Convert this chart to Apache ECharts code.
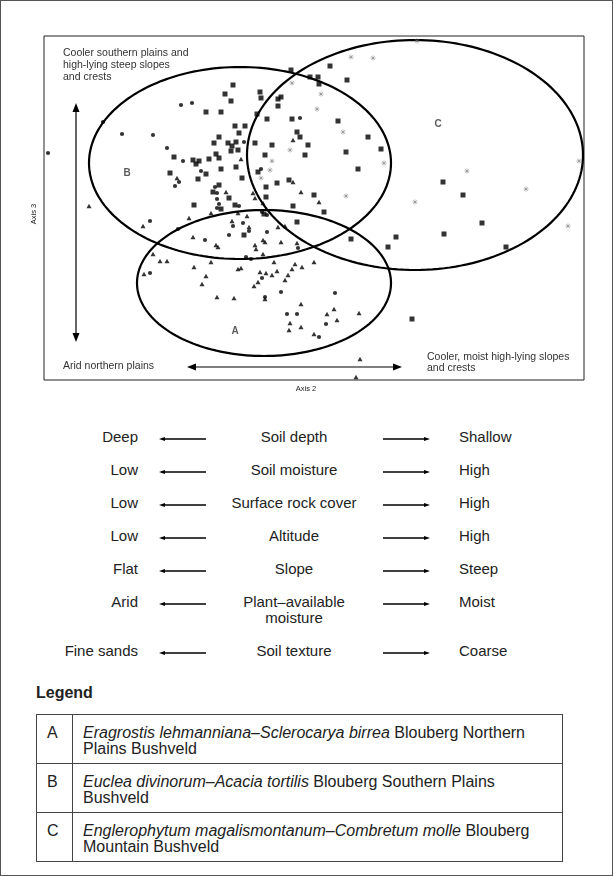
<!DOCTYPE html>
<html>
<head>
<meta charset="utf-8">
<script src="https://cdn.jsdelivr.net/npm/echarts@6/dist/echarts.min.js"></script>
<style>
html,body{margin:0;padding:0;background:#fff;}
body{width:613px;height:876px;position:relative;overflow:hidden;font-family:"Liberation Sans",Arial,sans-serif;color:#222;}
#frame{position:absolute;left:0;top:0;width:611px;height:874px;border:1px solid #555;}
#chart{position:absolute;left:0;top:0;width:613px;height:400px;}
.t{position:absolute;font-size:15px;line-height:16px;white-space:nowrap;}
.arr{position:absolute;}
#legTitle{position:absolute;left:36px;top:684px;font-weight:bold;font-size:16px;}
table{position:absolute;left:36px;top:714px;width:527px;border-collapse:collapse;font-size:16px;line-height:15.5px;}
td{border:1.5px solid #444;vertical-align:top;padding:10px 0 0 10px;height:38px;}
td.k{width:25px;}
</style>
</head>
<body>
<div id="frame"></div>
<div id="chart"></div>
<div id="rows"></div>
<div id="legTitle">Legend</div>
<table id="leg"></table>
<script>
// ---- scatter data (x = Axis 2 units, y = Axis 3 units) ----
const squares = [
[189,295],[181,286],[187,279],[216,288],[217,282],[234,281],[237,283],[234,274],[162,268],[177,268],
[213,266],[223,261],[248,261],[191,254],[201,254],[195,247],[175,243],[170,237],[184,237],[188,234],
[192,238],[187,229],[194,230],[211,237],[228,235],[253,248],[256,243],[130,223],[172,226],[175,222],
[165,221],[149,220],[155,219],[152,216],[221,225],[192,213],[177,211],[162,206],[214,208],[126,207],
[154,201],[198,202],[233,197],[245,200],[175,195],[222,193],[169,188],[185,182],[222,183],[150,175],
[191,175],[249,174],[177,171],[220,166],[253,158],[200,145],[247,310],[266,303],[274,303],[275,296],
[286,314],[303,300],[294,259],[324,243],[264,235],[337,231],[302,228],[261,225],[314,211],[270,185],
[280,168],[307,141],[352,143],[344,133],[399,198],[419,185],[438,157],[400,146],[462,133],[368,61]
];
const dots = [
[4,227],[59,258],[78,246],[109,245],[123,232],[137,275],[148,277],[139,219],[200,238],[256,262],
[157,209],[217,211],[135,198],[131,194],[171,193],[173,187],[173,181],[175,176],[195,174],[173,172],
[218,168],[223,165],[106,159],[189,154],[199,157],[205,149],[185,145],[223,148],[161,140],[254,132],
[134,151],[202,123],[207,121],[106,107],[218,102],[221,83],[237,88],[291,87],[243,66],[253,66],
[282,56],[275,43]
];
const triangles = [
[249,240],[197,221],[133,202],[249,198],[182,188],[209,187],[211,182],[219,177],[167,167],[194,167],
[145,162],[99,154],[188,159],[203,164],[205,153],[234,153],[241,154],[149,143],[219,140],[221,138],
[237,138],[172,135],[174,133],[211,135],[212,131],[253,137],[45,174],[109,126],[116,119],[123,119],
[100,106],[150,113],[167,118],[162,104],[158,96],[173,83],[194,111],[197,112],[257,188],[275,178],
[270,118],[251,116],[258,113],[248,111],[230,118],[233,109],[219,126],[216,108],[222,107],[228,105],
[244,105],[241,100],[214,98],[210,94],[190,82],[221,81],[257,76],[290,71],[283,66],[315,67],
[293,60],[246,57],[245,50],[257,53],[270,46],[316,21],[312,3]
];
const asterisks = [
[248,297],[246,230],[228,219],[226,210],[217,202],[307,323],[329,322],[373,339],[277,286],[273,271],
[299,248],[340,217],[302,184],[371,178],[423,209],[482,191],[524,154],[535,219]
];
// group ellipses: [centreX, centreY, radiusX, radiusY] in axis units
const ellipseA = [220, 97, 127, 73];
const ellipseB = [196, 217, 151, 96];
const ellipseC = [371, 225, 168, 115];
const groupLabels = [["A",191,49],["B",83,207],["C",394,256]];

// ---- gradient table ----
const leftWords = ["Deep","Low","Low","Low","Flat","Arid","Fine sands"];
const centerWords = ["Soil depth","Soil moisture","Surface rock cover","Altitude","Slope","Plant\u2013available\nmoisture","Soil texture"];
const rightWords = ["Shallow","High","High","High","Steep","Moist","Coarse"];

// ---- legend ----
const legendKeys = ["A","B","C"];
const legendItalic = ["Eragrostis lehmanniana\u2013Sclerocarya birrea","Euclea divinorum\u2013Acacia tortilis","Englerophytum magalismontanum\u2013Combretum molle"];
const legendPlain = [" Blouberg Northern<br>Plains Bushveld"," Blouberg Southern Plains<br>Bushveld"," Blouberg<br>Mountain Bushveld"];

const chart = echarts.init(document.getElementById('chart'), null, {renderer:'canvas'});
const FONT = '"Liberation Sans", Arial, sans-serif';
const astPath = 'path://M4.55 0h0.9v10h-0.9z M0 4.55h10v0.9h-10z M1.2 1.85L1.85 1.2L8.8 8.15L8.15 8.8Z M8.8 1.85L8.15 1.2L1.2 8.15L1.85 8.8Z';

function ellipseSeries(e){
  return {
    type:'custom', coordinateSystem:'cartesian2d', clip:true, silent:true, z:3,
    data:[e],
    renderItem:function(params, api){
      const c = api.coord([api.value(0), api.value(1)]);
      const s = api.size([api.value(2), api.value(3)]);
      const pts = [];
      const n = 180;
      for(let i=0;i<n;i++){
        const a = i/n*Math.PI*2;
        pts.push([c[0]+s[0]*Math.cos(a), c[1]+s[1]*Math.sin(a)]);
      }
      return {type:'polygon', shape:{points:pts}, style:{fill:'none', stroke:'#000', lineWidth:2.2}};
    }
  };
}
function arrowHead(x,y,dir){
  const L=9, W=3.5; let pts;
  if(dir==='up') pts=[[x,y],[x-W,y+L],[x+W,y+L]];
  if(dir==='down') pts=[[x,y],[x-W,y-L],[x+W,y-L]];
  if(dir==='left') pts=[[x,y],[x+L,y-W],[x+L,y+W]];
  if(dir==='right') pts=[[x,y],[x-L,y-W],[x-L,y+W]];
  return {type:'polygon', shape:{points:pts}, style:{fill:'#000'}, silent:true};
}

chart.setOption({
  animation:false,
  grid:{left:44, top:36, width:540, height:344, show:true, borderColor:'#222', borderWidth:1, backgroundColor:'#fff'},
  xAxis:{type:'value', min:0, max:540, show:false},
  yAxis:{type:'value', min:0, max:344, show:false},
  series:[
    ellipseSeries(ellipseA), ellipseSeries(ellipseB), ellipseSeries(ellipseC),
    {type:'scatter', data:squares, symbol:'rect', symbolSize:5, itemStyle:{color:'#000'}, z:4, clip:false},
    {type:'scatter', data:dots, symbol:'circle', symbolSize:4.2, itemStyle:{color:'#000'}, z:4, clip:false},
    {type:'scatter', data:triangles, symbol:'triangle', symbolSize:[5,4.5], itemStyle:{color:'#000'}, z:4, clip:false},
    {type:'scatter', data:asterisks, symbol:astPath, symbolSize:5.5, itemStyle:{color:'#777'}, z:4, clip:false},
    {type:'scatter', data:groupLabels.map(d=>({name:d[0], value:[d[1],d[2]]})), symbolSize:0, z:5,
      label:{show:true, position:'inside', formatter:'{b}', fontFamily:FONT, fontWeight:'bold', fontSize:10, color:'#333'}}
  ],
  graphic:[
    {type:'text', x:63, y:47, style:{text:'Cooler southern plains and\nhigh-lying steep slopes\nand crests', font:'10.5px '+FONT, fill:'#333', lineHeight:12}},
    {type:'text', x:63, y:361, style:{text:'Arid northern plains', font:'10.5px '+FONT, fill:'#333'}},
    {type:'text', x:427, y:351, style:{text:'Cooler, moist high-lying slopes\nand crests', font:'10.5px '+FONT, fill:'#333', lineHeight:11.5}},
    {type:'text', x:306, y:389, style:{text:'Axis 2', font:'7.5px '+FONT, fill:'#222', align:'center', verticalAlign:'middle'}},
    {type:'text', x:34, y:214, rotation:Math.PI/2, style:{text:'Axis 3', font:'7.5px '+FONT, fill:'#222', align:'center', verticalAlign:'middle'}},
    {type:'line', shape:{x1:76, y1:108, x2:76, y2:337}, style:{stroke:'#000', lineWidth:1.2}},
    arrowHead(76,103,'up'), arrowHead(76,342,'down'),
    {type:'line', shape:{x1:192, y1:367, x2:397, y2:367}, style:{stroke:'#000', lineWidth:1.2}},
    arrowHead(187,367,'left'), arrowHead(402,367,'right')
  ]
});

// ---- build gradient rows ----
const rowsEl = document.getElementById('rows');
const rowY = [437,470,503,536,569,602,651];
function arrowSvg(x1,x2,y,left){
  const w = x2-x1;
  const head = left ? `<polygon points="0,3 6,1 6,5" fill="#000"/>` : `<polygon points="${w},3 ${w-6},1 ${w-6},5" fill="#000"/>`;
  return `<svg class="arr" style="left:${x1}px;top:${y-3}px" width="${w}" height="6"><line x1="${left?3:0}" y1="3" x2="${left?w:w-3}" y2="3" stroke="#000" stroke-width="1.5"/>${head}</svg>`;
}
let html='';
leftWords.forEach((lw,i)=>{
  const y = rowY[i];
  html += `<div class="t" style="right:${613-138}px;top:${y-8}px;text-align:right">${lw}</div>`;
  html += arrowSvg(159,206,y+2,true);
  const cw = centerWords[i].split('\n').join('<br>');
  html += `<div class="t" style="left:194px;width:200px;top:${y-8}px;text-align:center">${cw}</div>`;
  html += arrowSvg(383,430,y+2,false);
  html += `<div class="t" style="left:459px;top:${y-8}px">${rightWords[i]}</div>`;
});
rowsEl.innerHTML = html;

// ---- legend table ----
let th='';
legendKeys.forEach((k,i)=>{
  th += `<tr><td class="k">${k}</td><td><i>${legendItalic[i]}</i>${legendPlain[i]}</td></tr>`;
});
document.getElementById('leg').innerHTML = th;
</script>
</body>
</html>
